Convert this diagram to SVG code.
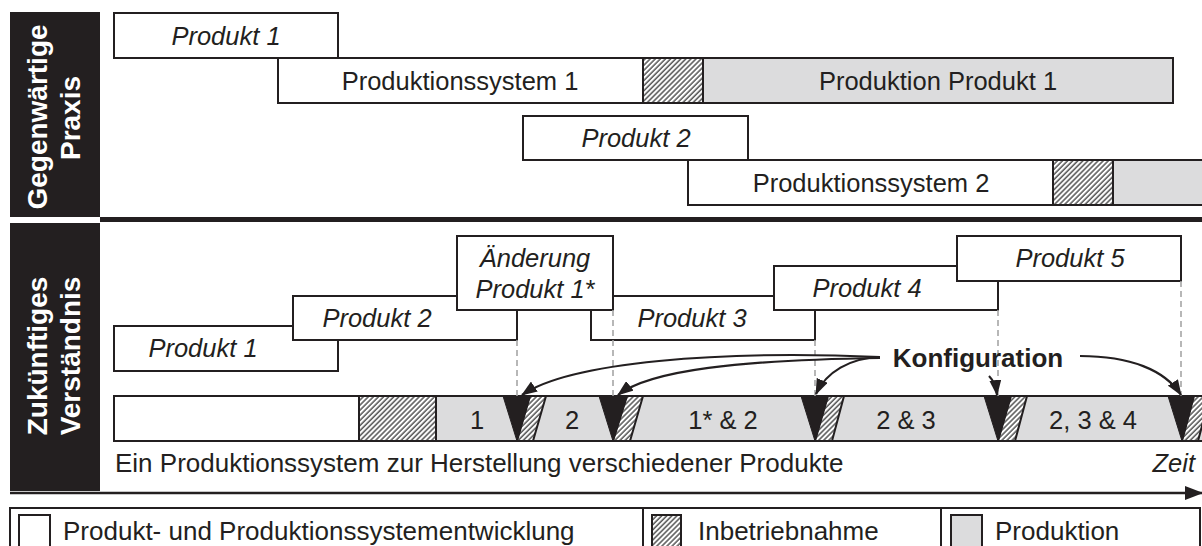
<svg xmlns="http://www.w3.org/2000/svg" width="1202" height="546" viewBox="0 0 1202 546">
  <style>
    .box { fill: #ffffff; stroke: #231f20; stroke-width: 2; }
    .grey { fill: #dcdcdd; stroke: #231f20; stroke-width: 2; }
    .hatch { fill: url(#hatch); stroke: #231f20; stroke-width: 2; }
    .edge { fill: none; stroke: #231f20; stroke-width: 2; }
    .tri { fill: #231f20; stroke: #231f20; stroke-width: 1; }
    .t { font-family: "Liberation Sans", Arial, sans-serif; font-size: 25.5px; fill: #231f20; }
    .it { font-style: italic; }
    .mid { text-anchor: middle; }
    .side { font-family: "Liberation Sans", Arial, sans-serif; font-size: 28px; font-weight: bold; fill: #ffffff; text-anchor: middle; }
    .dash { fill: none; stroke: #a6a6a6; stroke-width: 1.6; stroke-dasharray: 6 4; }
    .arrow { fill: none; stroke: #231f20; stroke-width: 2.2; marker-end: url(#head); }
  </style>
  <defs>
    <pattern id="hatch" patternUnits="userSpaceOnUse" width="3.6" height="3.6" patternTransform="rotate(45)">
      <rect width="3.6" height="3.6" fill="#ffffff"/>
      <line x1="1" y1="0" x2="1" y2="3.6" stroke="#3a3a3a" stroke-width="1.3"/>
    </pattern>
    <marker id="head" markerUnits="userSpaceOnUse" markerWidth="16" markerHeight="12" refX="15" refY="6" orient="auto">
      <path d="M0,0 L16,6 L0,12 Z" fill="#231f20"/>
    </marker>
    <marker id="axisHead" markerUnits="userSpaceOnUse" markerWidth="18" markerHeight="14" refX="17" refY="7" orient="auto">
      <path d="M0,0 L18,7 L0,14 Z" fill="#231f20"/>
    </marker>
  </defs>

  <rect width="1202" height="546" fill="#ffffff"/>

  <!-- side labels -->
  <g id="label-current">
    <rect x="10" y="12" width="90" height="205" fill="#231f20"/>
    <text class="side" transform="translate(47,117) rotate(-90)">Gegenwärtige</text>
    <text class="side" transform="translate(80,118) rotate(-90)">Praxis</text>
  </g>
  <g id="label-future">
    <rect x="10" y="223" width="90" height="268" fill="#231f20"/>
    <text class="side" transform="translate(47,356) rotate(-90)">Zukünftiges</text>
    <text class="side" transform="translate(80,356) rotate(-90)">Verständnis</text>
  </g>

  <!-- divider between the two sections -->
  <rect x="100" y="217" width="1102" height="5" fill="#231f20"/>

  <!-- current practice -->
  <g id="cur-produkt1">
    <rect class="box" x="114" y="13" width="224" height="45"/>
    <text class="t it mid" x="226" y="45">Produkt 1</text>
  </g>
  <g id="cur-system1">
    <rect class="box" x="278" y="58" width="365" height="45"/>
    <rect class="hatch" x="643" y="58" width="60" height="45"/>
    <rect class="grey" x="703" y="58" width="470" height="45"/>
    <text class="t mid" x="460" y="90">Produktionssystem 1</text>
    <text class="t mid" x="938" y="90">Produktion Produkt 1</text>
  </g>
  <g id="cur-produkt2">
    <rect class="box" x="523" y="116" width="225" height="44"/>
    <text class="t it mid" x="636" y="147">Produkt 2</text>
  </g>
  <g id="cur-system2">
    <rect class="box" x="688" y="160" width="365" height="45"/>
    <rect class="hatch" x="1053" y="160" width="60" height="45"/>
    <rect class="grey" x="1113" y="160" width="100" height="45"/>
    <text class="t mid" x="871" y="192">Produktionssystem 2</text>
  </g>

  <!-- future understanding: product developments -->
  <g id="fut-produkt1">
    <rect class="box" x="114" y="326" width="224" height="45"/>
    <text class="t it mid" x="203" y="357">Produkt 1</text>
  </g>
  <g id="fut-produkt2">
    <rect class="box" x="293" y="296" width="224" height="44"/>
    <text class="t it mid" x="377" y="327">Produkt 2</text>
  </g>
  <g id="fut-produkt3">
    <rect class="box" x="591" y="296" width="224" height="44"/>
    <text class="t it mid" x="692" y="327">Produkt 3</text>
  </g>
  <g id="fut-aenderung">
    <rect class="box" x="457" y="236" width="156" height="74"/>
    <text class="t it mid" x="535" y="267">Änderung</text>
    <text class="t it mid" x="535" y="298">Produkt 1*</text>
  </g>
  <g id="fut-produkt4">
    <rect class="box" x="774" y="266" width="224" height="44"/>
    <text class="t it mid" x="867" y="297">Produkt 4</text>
  </g>
  <g id="fut-produkt5">
    <rect class="box" x="957" y="236" width="224" height="45"/>
    <text class="t it mid" x="1070" y="267">Produkt 5</text>
  </g>

  <!-- single production system timeline -->
  <g id="timeline">
    <rect x="436" y="396" width="780" height="45" fill="#dcdcdd"/>
    <rect x="114" y="396" width="245" height="45" fill="#ffffff"/>
    <rect x="359" y="396" width="77" height="45" fill="url(#hatch)"/>
    <path class="edge" d="M359,396 V441 M436,396 V441"/>
    <!-- reconfiguration: black wedge followed by short commissioning phase -->
    <path class="hatch" d="M530,396 H546 L533,441 H517 Z"/>
    <path class="tri" d="M503,396 H530 L517,441 Z"/>
    <path class="hatch" d="M627,396 H643 L630,441 H613 Z"/>
    <path class="tri" d="M599,396 H627 L613,441 Z"/>
    <path class="hatch" d="M828,396 H844 L832,441 H815 Z"/>
    <path class="tri" d="M801,396 H828 L815,441 Z"/>
    <path class="hatch" d="M1011,396 H1027 L1015,441 H998 Z"/>
    <path class="tri" d="M984,396 H1011 L998,441 Z"/>
    <path class="hatch" d="M1194,396 H1210 L1198,441 H1182 Z"/>
    <path class="tri" d="M1168,396 H1194 L1182,441 Z"/>
    <path class="edge" d="M1210,396 H114 V441 H1210"/>
    <text class="t mid" x="477" y="429">1</text>
    <text class="t mid" x="572" y="429">2</text>
    <text class="t mid" x="723" y="429">1* &amp; 2</text>
    <text class="t mid" x="906" y="429">2 &amp; 3</text>
    <text class="t mid" x="1093" y="429">2, 3 &amp; 4</text>
  </g>

  <!-- connectors -->
  <g id="connectors">
    <path class="dash" d="M517,340 V396"/>
    <path class="dash" d="M613,310 V396"/>
    <path class="dash" d="M815,340 V396"/>
    <path class="dash" d="M998,310 V396"/>
    <path class="dash" d="M1181,281 V396"/>
    <path class="arrow" d="M880,357 C720,350 570,362 522,395"/>
    <path class="arrow" d="M880,358 C740,360 650,370 618,395"/>
    <path class="arrow" d="M880,357 C850,358 826,372 816,394"/>
    <path class="arrow" d="M989,376 C994,381 996,386 997,395"/>
    <path class="arrow" d="M1080,356 C1130,356 1165,370 1181,395"/>
    <text class="t mid" x="978" y="367" style="font-weight:bold;font-size:26px">Konfiguration</text>
  </g>

  <!-- time axis -->
  <g id="axis">
    <text class="t" x="115" y="472" style="font-size:26px">Ein Produktionssystem zur Herstellung verschiedener Produkte</text>
    <text class="t it" x="1195" y="472" text-anchor="end">Zeit</text>
    <line x1="10" y1="493" x2="1202" y2="493" stroke="#231f20" stroke-width="2.5" marker-end="url(#axisHead)"/>
  </g>

  <!-- legend -->
  <g id="legend">
    <rect class="edge" x="10" y="508" width="1190" height="50"/>
    <line class="edge" x1="643" y1="508" x2="643" y2="546"/>
    <line class="edge" x1="941" y1="508" x2="941" y2="546"/>
    <rect class="box" x="19" y="515" width="31" height="40"/>
    <text class="t" x="63" y="540" style="font-size:26px">Produkt- und Produktionssystementwicklung</text>
    <rect class="hatch" x="652" y="515" width="29" height="40"/>
    <text class="t" x="698" y="540" style="font-size:26px">Inbetriebnahme</text>
    <rect class="grey" x="951" y="515" width="31" height="40"/>
    <text class="t" x="995" y="540" style="font-size:26px">Produktion</text>
  </g>
</svg>
